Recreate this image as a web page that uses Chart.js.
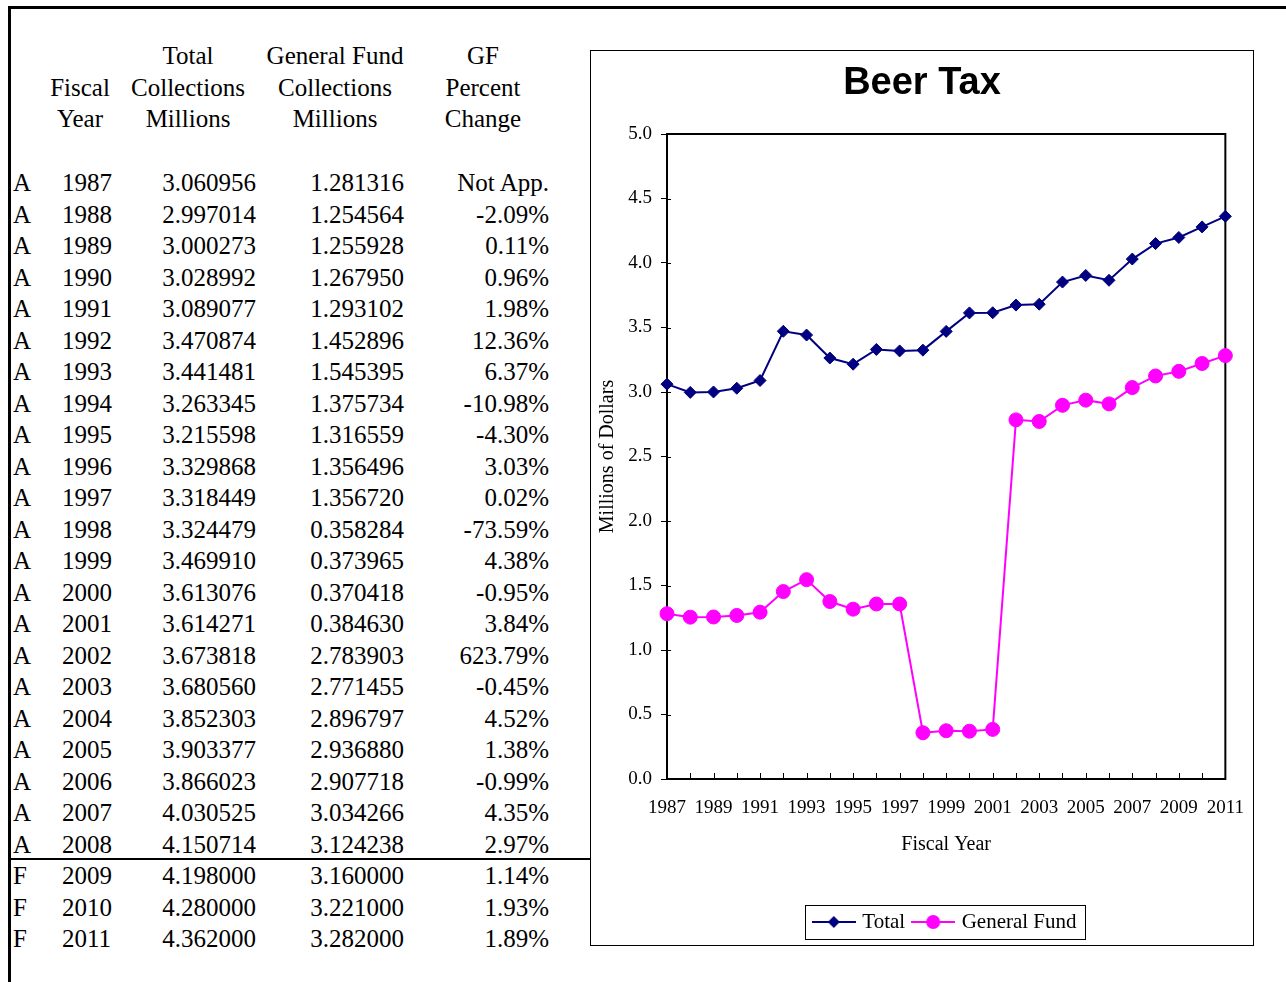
<!DOCTYPE html>
<html><head><meta charset="utf-8">
<script src="https://cdn.jsdelivr.net/npm/chart.js@4/dist/chart.umd.min.js"></script>
<style>
html,body{margin:0;padding:0;background:#fff;}
#page{position:relative;width:1286px;height:982px;overflow:hidden;font-family:'Liberation Serif','Times New Roman',serif;color:#000;background:#fff;}
.c{position:absolute;font-size:25px;line-height:30px;white-space:nowrap;}
.h{position:absolute;font-size:25px;line-height:31.5px;white-space:nowrap;text-align:center;width:200px;}
#box{position:absolute;left:590px;top:50px;width:664px;height:896px;border:1px solid #000;box-sizing:border-box;background:#fff;}
#cv{position:absolute;left:0;top:0;}
</style></head><body><div id="page">
<div style="position:absolute;left:8px;top:6px;width:1278px;height:3px;background:#000"></div>
<div style="position:absolute;left:8px;top:6px;width:3px;height:976px;background:#000"></div>
<div style="position:absolute;left:10px;top:858px;width:581px;height:2px;background:#000"></div>
<div id="box"><canvas id="cv" width="662" height="894"></canvas></div>
</div>
<script>
const years = ['1987','1988','1989','1990','1991','1992','1993','1994','1995','1996','1997','1998','1999','2000','2001','2002','2003','2004','2005','2006','2007','2008','2009','2010','2011'];
const status = ['A','A','A','A','A','A','A','A','A','A','A','A','A','A','A','A','A','A','A','A','A','A','F','F','F'];
const totalCollections = [3.060956,2.997014,3.000273,3.028992,3.089077,3.470874,3.441481,3.263345,3.215598,3.329868,3.318449,3.324479,3.469910,3.613076,3.614271,3.673818,3.680560,3.852303,3.903377,3.866023,4.030525,4.150714,4.198000,4.280000,4.362000];
const generalFund = [1.281316,1.254564,1.255928,1.267950,1.293102,1.452896,1.545395,1.375734,1.316559,1.356496,1.356720,0.358284,0.373965,0.370418,0.384630,2.783903,2.771455,2.896797,2.936880,2.907718,3.034266,3.124238,3.160000,3.221000,3.282000];
const gfPercentChange = ['Not App.','-2.09%','0.11%','0.96%','1.98%','12.36%','6.37%','-10.98%','-4.30%','3.03%','0.02%','-73.59%','4.38%','-0.95%','3.84%','623.79%','-0.45%','4.52%','1.38%','-0.99%','4.35%','2.97%','1.14%','1.93%','1.89%'];
const headerLines = [['','Total','General Fund','GF'],['Fiscal','Collections','Collections','Percent'],['Year','Millions','Millions','Change']];

const page = document.getElementById('page');
function cell(text, cls, css){ const d=document.createElement('div'); d.className=cls; d.textContent=text; Object.assign(d.style,css); page.appendChild(d); }
const headCenters=[80,188,335,483];
headerLines.forEach((line,r)=>{ line.forEach((t,c)=>{ if(t) cell(t,'h',{left:(headCenters[c]-100)+'px',top:(40+r*31.5)+'px'}); }); });
years.forEach((y,i)=>{
  const top = 183 + i*31.5 - 15;
  cell(status[i],'c',{left:'13px',top:top+'px'});
  cell(y,'c',{left:'62px',top:top+'px'});
  cell(totalCollections[i].toFixed(6),'c',{right:(1286-256)+'px',top:top+'px'});
  cell(generalFund[i].toFixed(6),'c',{right:(1286-404)+'px',top:top+'px'});
  cell(gfPercentChange[i],'c',{right:(1286-549)+'px',top:top+'px'});
});

Chart.defaults.font.family = "'Liberation Serif','Times New Roman',serif";
Chart.defaults.color = '#000';

function legendIcon(color, kind, r){
  const cv=document.createElement('canvas'); cv.width=44; cv.height=16;
  const g=cv.getContext('2d');
  g.strokeStyle=color; g.lineWidth=2; g.beginPath(); g.moveTo(0,8); g.lineTo(44,8); g.stroke();
  g.fillStyle=color; g.beginPath();
  if(kind==='d'){ g.moveTo(22,8-r); g.lineTo(22+r,8); g.lineTo(22,8+r); g.lineTo(22-r,8); g.closePath(); }
  else { g.arc(22,8,r,0,Math.PI*2); }
  g.fill();
  return cv;
}
const icons=[legendIcon('#000080','d',6), legendIcon('#FF00FF','c',7)];

const framePlugin = {
  id:'frame',
  beforeDatasetsDraw(chart){
    const {ctx, chartArea:a, scales:{x,y}} = chart;
    ctx.save(); ctx.strokeStyle='#000'; ctx.lineWidth=2;
    ctx.strokeRect(a.left, a.top, a.right-a.left, a.bottom-a.top);
    ctx.lineWidth=1; ctx.beginPath();
    for(let i=0;i<x.ticks.length;i++){ const px=Math.round(x.getPixelForTick(i))+0.5; ctx.moveTo(px,a.bottom); ctx.lineTo(px,a.bottom-6); }
    for(let i=0;i<y.ticks.length;i++){ const py=Math.round(y.getPixelForTick(i))+0.5; ctx.moveTo(a.left,py); ctx.lineTo(a.left+4,py); }
    ctx.stroke(); ctx.restore();
  },
  afterDraw(chart){
    const hb = chart.legend && chart.legend.legendHitBoxes; if(!hb||!hb.length) return;
    const ctx=chart.ctx; const first=hb[0], last=hb[hb.length-1];
    const cy = first.top + first.height/2;
    const l = first.left - 11, r = last.left + last.width + 8;
    ctx.save(); ctx.strokeStyle='#000'; ctx.lineWidth=1;
    ctx.strokeRect(Math.round(l)+0.5, Math.round(cy-17)+0.5, Math.round(r-l), 34);
    ctx.restore();
  }
};

new Chart(document.getElementById('cv'), {
  type:'line',
  data:{ labels:years, datasets:[
    {label:'Total', data:totalCollections, borderColor:'#000080', backgroundColor:'#000080', borderWidth:2, pointStyle:'rectRot', pointRadius:6, pointHoverRadius:6, pointBorderWidth:1, tension:0, clip:false},
    {label:'General Fund', data:generalFund, borderColor:'#FF00FF', backgroundColor:'#FF00FF', borderWidth:2, pointStyle:'circle', pointRadius:7, pointHoverRadius:7, pointBorderWidth:1, tension:0, clip:false}
  ]},
  options:{
    responsive:false, animation:false, devicePixelRatio:1,
    layout:{padding:{left:0,right:0,top:0,bottom:2.5}},
    plugins:{
      title:{display:true, text:'Beer Tax', color:'#000', font:{family:"'Liberation Sans',Arial,sans-serif", size:38, weight:'bold', lineHeight:1.2}, padding:{top:10.2,bottom:27.2}},
      legend:{position:'bottom', fullSize:false, labels:{usePointStyle:true, pointStyleWidth:36, padding:10, color:'#000', font:{size:21},
        generateLabels(chart){ return Chart.defaults.plugins.legend.labels.generateLabels(chart).map((it,i)=>Object.assign(it,{pointStyle:icons[i]})); }}},
      tooltip:{enabled:false}
    },
    scales:{
      x:{ offset:false, grid:{display:false, drawTicks:true, tickLength:9}, border:{display:false},
          ticks:{autoSkip:false, maxRotation:0, minRotation:0, padding:9, color:'#000', font:{size:19},
                 callback(v,i){ return i%2===0 ? this.getLabelForValue(v) : ''; }},
          title:{display:true, text:'Fiscal Year', color:'#000', font:{size:20, lineHeight:1.2}, padding:{top:4,bottom:44.5}},
          afterFit(s){ s.height=122.5; } },
      y:{ min:0, max:5, ticks:{stepSize:0.5, color:'#000', font:{size:19}, padding:9, callback:v=>Number(v).toFixed(1)},
          grid:{drawOnChartArea:false, drawTicks:true, tickLength:6, color:'#000', lineWidth:1}, border:{display:false},
          title:{display:true, text:'Millions of Dollars', color:'#000', font:{size:20, lineHeight:1.2}, padding:{top:5,bottom:0}},
          afterFit(s){ s.width=76; } }
    }
  },
  plugins:[framePlugin]
});
</script>
</body></html>
